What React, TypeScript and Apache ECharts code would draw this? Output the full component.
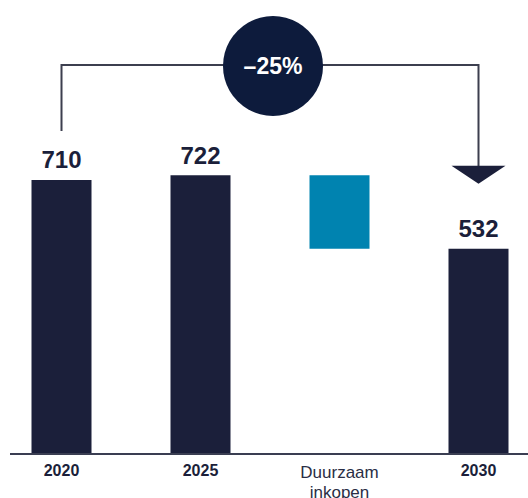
import React, { useEffect, useRef } from "react";
import * as echarts from "echarts";

const categories = ["2020", "2025", "Duurzaam\ninkopen", "2030"];
const totals: (number | null)[] = [710, 722, null, 532];
const reductionFrom = 722;
const reductionTo = 532;
const startValue = 710;
const endValue = 532;

const NAVY = "#1b1f3a";
const TEAL = "#0083b0";
const CIRCLE = "#0d1b3c";
const LINE = "#3c3f4f";
const FONT = "Liberation Sans, Arial, sans-serif";

export default function App() {
  const ref = useRef<HTMLDivElement>(null);
  useEffect(() => {
    if (!ref.current) return;
    const chart = echarts.init(ref.current, undefined, { renderer: "svg" });
    const base = categories.map((_, i) => (totals[i] == null ? reductionTo : 0));
    const main = totals.map((v) => (v == null ? 0 : v));
    const change = categories.map((_, i) => (totals[i] == null ? reductionFrom - reductionTo : 0));
    const pct = Math.round(((endValue - startValue) / startValue) * 100);

    chart.setOption({
      animation: false,
      grid: { left: 61.5, right: 49.5, top: 68, bottom: 44, containLabel: false, outerBoundsMode: "none" },
      xAxis: {
        type: "category",
        data: categories,
        boundaryGap: false,
        axisLine: { show: false },
        axisTick: { show: false },
        axisLabel: {
          margin: 8,
          interval: 0,
          formatter: (v: string) => (v.includes("\n") ? `{n|${v.replace("\n", "}\n{n|")}}` : `{b|${v}}`),
          rich: {
            b: { fontFamily: FONT, fontWeight: "bold", fontSize: 16, color: NAVY },
            n: { fontFamily: FONT, fontWeight: "normal", fontSize: 17, color: "#2a2e45", lineHeight: 20 },
          },
        },
      },
      yAxis: { type: "value", min: 0, max: 1000, show: false, splitLine: { show: false } },
      series: [
        {
          type: "bar",
          stack: "t",
          data: base,
          barWidth: 60,
          clip: false,
          itemStyle: { color: "transparent" },
          silent: true,
        },
        {
          type: "bar",
          stack: "t",
          data: main,
          barWidth: 60,
          clip: false,
          itemStyle: { color: NAVY },
          label: {
            show: true,
            position: "top",
            distance: 8,
            fontFamily: FONT,
            fontWeight: "bold",
            fontSize: 24,
            color: NAVY,
            formatter: (p: any) => (p.value ? String(p.value) : ""),
          },
        },
        {
          type: "bar",
          stack: "t",
          data: change,
          barWidth: 60,
          clip: false,
          itemStyle: { color: TEAL },
        },
      ],
    });

    const p0 = chart.convertToPixel({ seriesIndex: 1 }, [0, startValue]) as number[];
    const p3 = chart.convertToPixel({ seriesIndex: 1 }, [3, endValue]) as number[];
    const pb = chart.convertToPixel({ seriesIndex: 1 }, [0, 0]) as number[];
    const topY = 65;
    const cx = (p0[0] + p3[0]) / 2 + 3;

    chart.setOption({
      graphic: [
        {
          type: "line",
          shape: { x1: 10, y1: pb[1], x2: 528, y2: pb[1] },
          style: { stroke: "#3a3e52", lineWidth: 2 },
          z: 10,
        },
        {
          type: "polyline",
          shape: {
            points: [
              [p0[0], p0[1] - 49],
              [p0[0], topY],
              [p3[0], topY],
              [p3[0], p3[1] - 82],
            ],
          },
          style: { stroke: LINE, lineWidth: 2, fill: null },
        },
        {
          type: "polygon",
          shape: {
            points: [
              [p3[0] - 27, p3[1] - 83],
              [p3[0] + 27, p3[1] - 83],
              [p3[0], p3[1] - 65],
            ],
          },
          style: { fill: NAVY },
        },
        {
          type: "circle",
          shape: { cx, cy: 66, r: 50 },
          style: { fill: CIRCLE },
          z: 20,
        },
        {
          type: "text",
          x: cx,
          y: 66,
          z: 21,
          style: {
            text: `${pct < 0 ? "\u2013" : "+"}${Math.abs(pct)}%`,
            fill: "#ffffff",
            fontFamily: FONT,
            fontWeight: "bold",
            fontSize: 23,
            align: "center",
            verticalAlign: "middle",
          },
        },
      ],
    });

    return () => chart.dispose();
  }, []);
  return <div ref={ref} style={{ position: "absolute", left: 0, top: 0, width: 528, height: 498 }} />;
}
